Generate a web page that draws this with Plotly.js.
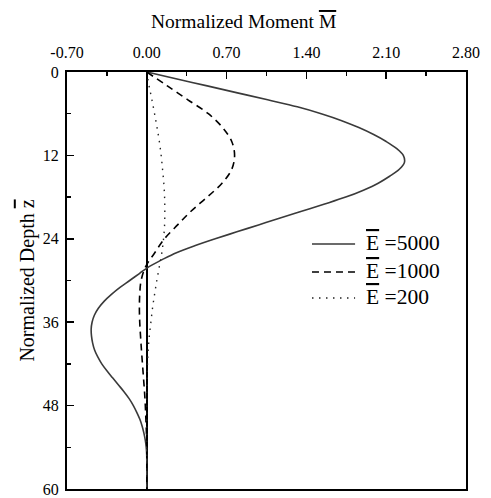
<!DOCTYPE html>
<html>
<head>
<meta charset="utf-8">
<script src="https://cdn.plot.ly/plotly-3.0.1.min.js"></script>
<style>html,body{margin:0;padding:0;background:#fff;}</style>
</head>
<body>
<div id="chart" style="width:491px;height:498px;"></div>
<script>
// Normalized depth values (z̄) for Ē = 5000
const depthA = [0,1,2,3,4,5,6,7,8,9,10,11,12,13,14,15,16,17,18,19,20,21,22,23,24,25,26,27,28,29,30,31,32,33,34,35,36,37,38,39,40,41,42,43,44,45,46,47,48,49,50,51,52,53,54,55,56,57,58,59,60];
// Ē = 5000 moments
const moment5000 = [0,0.265,0.53,0.795,1.06,1.32,1.53,1.71,1.86,1.99,2.10,2.19,2.25,2.26,2.215,2.13,2.03,1.90,1.745,1.56,1.365,1.17,0.98,0.79,0.60,0.42,0.26,0.135,0.02,-0.065,-0.15,-0.235,-0.31,-0.375,-0.425,-0.46,-0.48,-0.488,-0.485,-0.475,-0.458,-0.43,-0.395,-0.35,-0.30,-0.25,-0.20,-0.155,-0.118,-0.087,-0.06,-0.04,-0.025,-0.013,-0.005,-0.001,0,0,0,0,0];

const depthB = [0,2,4,6,8,10,12,14,16,18,20,22,24,26,28,30,32,34,36,38,40,42,44,46,48,50,52,54,56,58,60];
// Ē = 1000 moments
const moment1000 = [0,0.18,0.36,0.54,0.665,0.745,0.77,0.745,0.66,0.53,0.39,0.27,0.155,0.07,-0.01,-0.05,-0.062,-0.065,-0.062,-0.055,-0.047,-0.038,-0.029,-0.02,-0.013,-0.008,-0.003,0,0,0,0];

const depthC = [0,2,4,6,8,10,12,14,16,18,20,22,24,26,28,30,32,34,36,38,40,42,44,46,48,52,56,60];
// Ē = 200 moments
const moment200 = [0,0.02,0.045,0.068,0.09,0.11,0.126,0.138,0.149,0.156,0.158,0.156,0.147,0.132,0.11,0.088,0.068,0.05,0.036,0.022,0.012,0.006,0.002,0,0,0,0,0];

const seriesNames = ['5000','1000','200'];

const xTickVals = [-0.7,0,0.7,1.4,2.1,2.8];
const xTickText = ['-0.70','0.00','0.70','1.40','2.10','2.80'];
const yTickVals = [0,12,24,36,48,60];
const yTickText = ['0','12','24','36','48','60'];

const OV = s => '<span style="text-decoration:overline">' + s + '</span>';
const font = '"Liberation Serif", "Times New Roman", Times, serif';

const styles = [
  {color: '#3a3a3a', width: 1.6, dash: 'solid'},
  {color: '#000000', width: 1.6, dash: '7px,5px'},
  {color: '#222222', width: 1.4, dash: '1.5px,5.5px'}
];

const traces = [
  {x: moment5000, y: depthA, name: OV('E') + ' =' + seriesNames[0], mode: 'lines',
   line: Object.assign({shape: 'spline', smoothing: 1}, styles[0])},
  {x: moment1000, y: depthB, name: OV('E') + ' =' + seriesNames[1], mode: 'lines',
   line: Object.assign({shape: 'spline', smoothing: 1}, styles[1])},
  {x: moment200, y: depthC, name: OV('E') + ' =' + seriesNames[2], mode: 'lines',
   line: Object.assign({shape: 'spline', smoothing: 1}, styles[2])}
];

// manual legend (sample lines + labels), in paper coordinates
const legX0 = 0.614, legX1 = 0.722, legTextX = 0.745;
const legRowsY = [0.5875, 0.5204, 0.458];
const shapes = [], annotations = [];
traces.forEach((t, i) => {
  shapes.push({type: 'line', xref: 'paper', yref: 'paper', x0: legX0, x1: legX1, y0: legRowsY[i], y1: legRowsY[i],
               line: {color: styles[i].color, width: styles[i].width, dash: styles[i].dash}});
  annotations.push({xref: 'paper', yref: 'paper', x: legTextX, y: legRowsY[i], xanchor: 'left', yanchor: 'middle',
                    text: t.name, showarrow: false, font: {family: font, size: 21.5, color: '#000'}, yshift: 1});
});
annotations.push({xref: 'paper', yref: 'paper', x: 0.4436, y: 1.122, xanchor: 'center', yanchor: 'middle',
                  text: 'Normalized Moment ' + OV('M'), showarrow: false, font: {family: font, size: 19.5, color: '#000'}});

const layout = {
  width: 491, height: 498,
  margin: {l: 67, r: 25, t: 72, b: 9},
  paper_bgcolor: '#fff', plot_bgcolor: '#fff',
  font: {family: font, color: '#000', size: 16},
  showlegend: false,
  shapes: shapes,
  annotations: annotations,
  xaxis: {
    side: 'top', range: [-0.7, 2.8], tickmode: 'array', tickvals: xTickVals, ticktext: xTickText,
    ticks: 'inside', ticklen: 7, tickwidth: 1.5, tickcolor: '#000', ticklabelstandoff: 6,
    minor: {tickmode: 'linear', tick0: -0.7, dtick: 0.35, ticks: 'inside', ticklen: 4, tickwidth: 1.5, tickcolor: '#000'},
    showline: true, linewidth: 2, linecolor: '#000', mirror: true,
    showgrid: false, zeroline: true, zerolinecolor: '#000', zerolinewidth: 1.5,
    tickfont: {family: font, size: 16, color: '#000'}
  },
  yaxis: {
    range: [60, 0], tickmode: 'array', tickvals: yTickVals, ticktext: yTickText,
    ticks: 'inside', ticklen: 7, tickwidth: 1.5, tickcolor: '#000', ticklabelstandoff: 3,
    minor: {tickmode: 'linear', tick0: 0, dtick: 6, ticks: 'inside', ticklen: 4, tickwidth: 1.5, tickcolor: '#000'},
    showline: true, linewidth: 2, linecolor: '#000', mirror: true,
    showgrid: false, zeroline: false,
    tickfont: {family: font, size: 16, color: '#000'},
    title: {text: 'Normalized Depth ' + OV('z'), font: {family: font, size: 20, color: '#000'}, standoff: 3}
  }
};

Plotly.newPlot('chart', traces, layout, {displayModeBar: false, staticPlot: true});
</script>
</body>
</html>
